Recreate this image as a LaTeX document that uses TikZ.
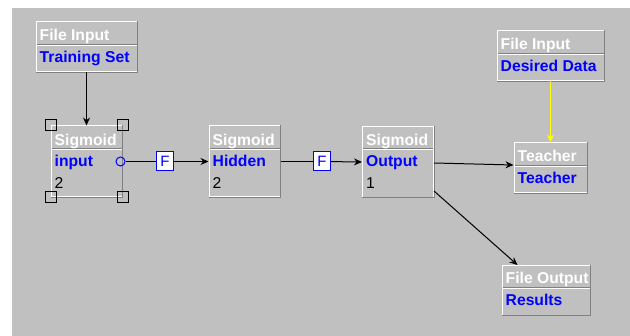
\documentclass[tikz,border=0pt]{standalone}
\usepackage{fontspec}
\setmainfont{Liberation Sans}
\usetikzlibrary{arrows.meta,positioning,calc}
\definecolor{panelgray}{HTML}{C0C0C0}
\definecolor{edgedark}{HTML}{808080}
\definecolor{jblue}{HTML}{0000FF}
\definecolor{jyellow}{HTML}{FFFF00}
\tikzset{
  comp/.style={rectangle,fill=panelgray,draw=white,line width=1pt,minimum width=71pt,minimum height=71pt,inner sep=0pt},
  fcomp/.style={comp,minimum height=50pt},
  ttl/.style={anchor=base west,inner sep=0pt,text=white,font=\fontsize{15.7}{17}\selectfont\bfseries},
  nme/.style={anchor=base west,inner sep=0pt,text=jblue,font=\fontsize{15.7}{17}\selectfont\bfseries},
  cnt/.style={anchor=base west,inner sep=0pt,text=black,font=\fontsize{15.7}{17}\selectfont},
  bev/.style={draw=edgedark,line width=1pt},
  divl/.style={draw=white,line width=1pt},
  syn/.style={rectangle,draw=jblue,fill=white,line width=1pt,minimum width=17pt,minimum height=19pt,inner sep=0pt,text=jblue,font=\fontsize{15}{16}\selectfont},
  hdl/.style={rectangle,draw=black,line width=1pt,minimum size=11pt,inner sep=0pt},
  port/.style={circle,draw=jblue,line width=1pt,minimum size=9pt,inner sep=0pt},
  arr/.style={-{Stealth[length=8pt,width=7pt]},line width=1pt},
  lnk/.style={line width=1pt}
}
\begin{document}
\begin{tikzpicture}[x=1pt,y=-1pt]
  \useasboundingbox (0,0) rectangle (630,336);
  % panel
  \fill[panelgray] (12,8) rectangle (630,336);

  % components
  \node[fcomp, minimum width=101pt] (tset) at (86.5,47) {};
  \node[fcomp, minimum width=107pt] (desired) at (550.5,56) {};
  \node[comp] (input) at (86.5,161.5) {};
  \node[comp] (hidden) at (244.5,161.5) {};
  \node[comp] (output) at (398,162) {};
  \node[fcomp, minimum width=73pt] (teacher) at (550.5,168) {};
  \node[fcomp, minimum width=88pt] (results) at (546,290.5) {};

  % bevels and title dividers
  \foreach \b in {tset,desired,input,hidden,output,teacher,results} {
    \draw[bev] (\b.north east) -- (\b.south east) -- (\b.south west);
    \draw[bev] ($(\b.north west)+(1,23)$) -- ($(\b.north east)+(-1,23)$);
    \draw[divl] ($(\b.north west)+(1,24)$) -- ($(\b.north east)+(-1,24)$);
  }

  % texts
  \node[ttl] (tsetT) at ($(tset.north west)+(4,19)$) {File Input};
  \node[nme] (tsetN) at ($(tset.north west)+(4,41)$) {Training Set};
  \node[ttl] (desiredT) at ($(desired.north west)+(4,19)$) {File Input};
  \node[nme] (desiredN) at ($(desired.north west)+(4,41)$) {Desired Data};
  \node[ttl] (inputT) at ($(input.north west)+(4,20)$) {Sigmoid};
  \node[nme] (inputN) at ($(input.north west)+(4,41)$) {input};
  \node[cnt] (inputC) at ($(input.north west)+(4,63)$) {2};
  \node[ttl] (hiddenT) at ($(hidden.north west)+(4,20)$) {Sigmoid};
  \node[nme] (hiddenN) at ($(hidden.north west)+(4,41)$) {Hidden};
  \node[cnt] (hiddenC) at ($(hidden.north west)+(4,63)$) {2};
  \node[ttl] (outputT) at ($(output.north west)+(4,20)$) {Sigmoid};
  \node[nme] (outputN) at ($(output.north west)+(4,41)$) {Output};
  \node[cnt] (outputC) at ($(output.north west)+(4,63)$) {1};
  \node[ttl] (teacherT) at ($(teacher.north west)+(4,19)$) {Teacher};
  \node[nme] (teacherN) at ($(teacher.north west)+(4,41)$) {Teacher};
  \node[ttl] (resultsT) at ($(results.north west)+(4,19)$) {File Output};
  \node[nme] (resultsN) at ($(results.north west)+(4,41)$) {Results};

  % selection handles
  \foreach \a/\n in {north west/nw,north east/ne,south west/sw,south east/se}
    \node[hdl] (hdl\n) at (input.\a) {};

  % synapses
  \node[port] (inport) at ($(input.east)+(-2,0)$) {};
  \node[syn] (syn1) at (165,161.5) {F};
  \node[syn] (syn2) at (322,161.5) {F};

  % connections
  \draw[arr] (tset.south) -- (input.north);
  \draw[lnk] (inport) -- (syn1);
  \draw[arr] (syn1) -- (hidden.west);
  \draw[lnk] (hidden.east) -- (syn2);
  \draw[arr] (syn2) -- (output.west);
  \draw[arr] ($(output.east)+(0,1)$) -- ($(teacher.west)+(0,-3)$);
  \draw[arr] ($(output.south east)+(0,-7)$) -- ($(results.north west)+(16,0)$);
  \draw[arr, draw=jyellow, fill=jyellow] (desired.south) -- (teacher.north);
\end{tikzpicture}
\end{document}
